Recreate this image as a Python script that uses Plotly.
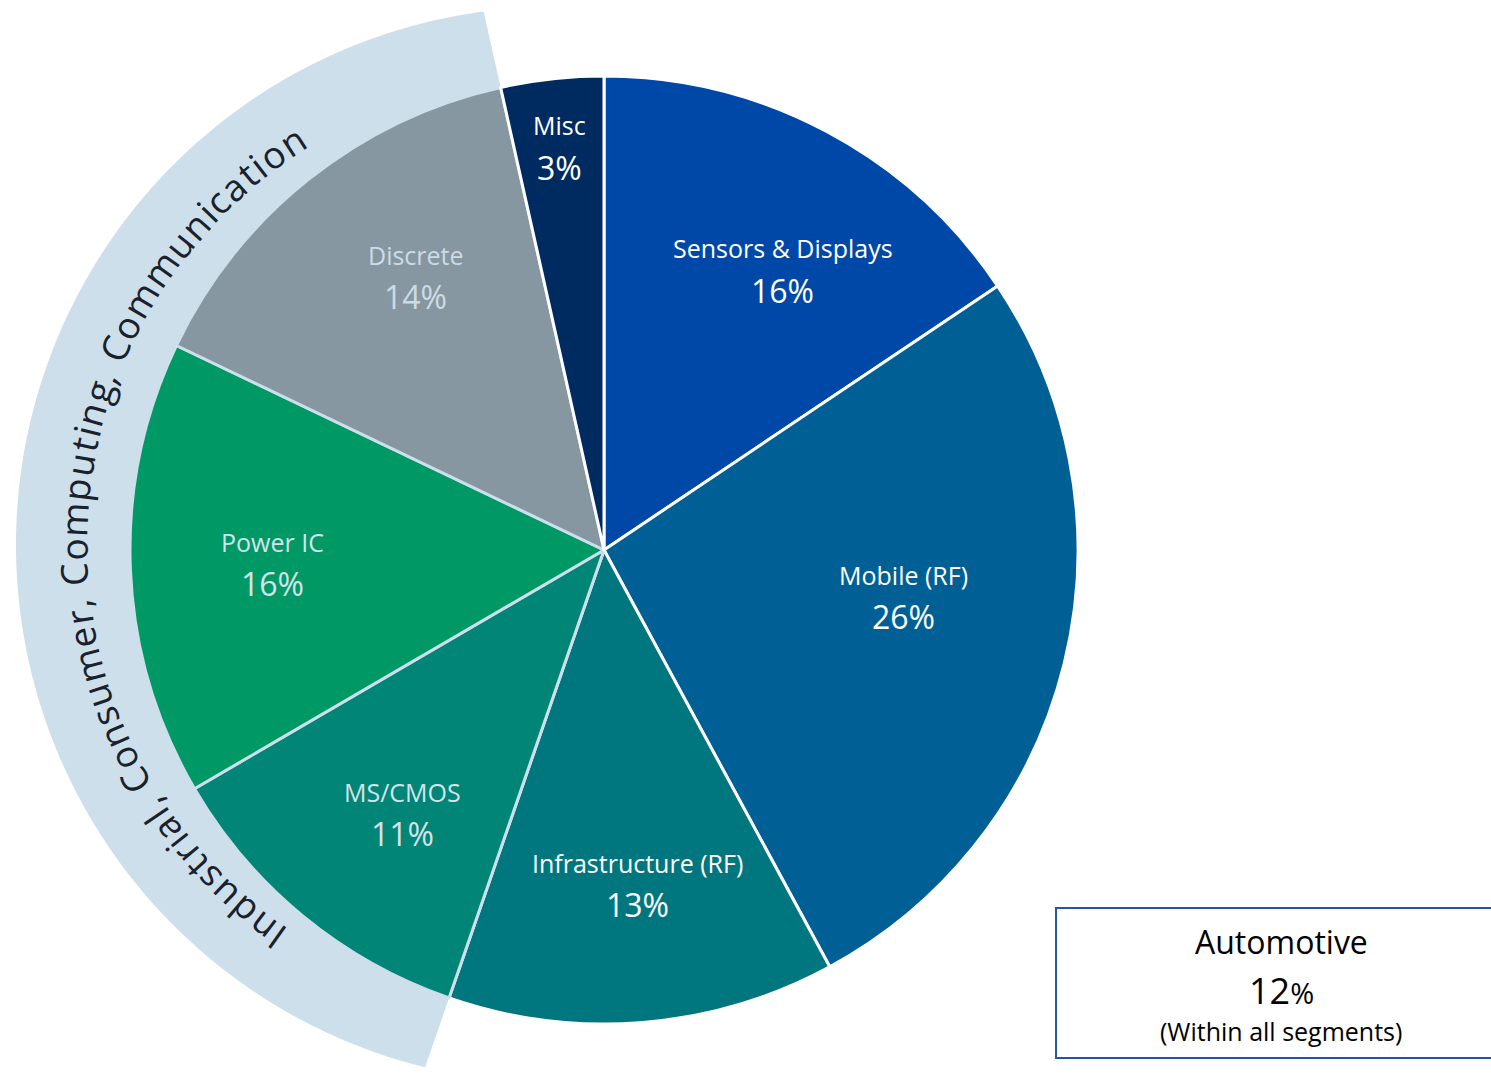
import math
import plotly.graph_objects as go

# data (clockwise from 12 o'clock)
segments = ["Sensors & Displays", "Mobile (RF)", "Infrastructure (RF)", "MS/CMOS",
            "Power IC", "Discrete", "Misc"]
shares = [15.6, 26.5, 13.2, 11.3, 15.5, 14.4, 3.5]
share_labels = ["16%", "26%", "13%", "11%", "16%", "14%", "3%"]
band_segments = ["MS/CMOS", "Power IC", "Discrete"]
band_label = "Industrial, Consumer, Computing, Communication"
automotive_share = "12"

# styling
COLORS = ["#0048A8", "#006096", "#00767F", "#008576", "#009966", "#8797A1", "#002B61"]
BAND_COLOR = "#CDDFEA"
TEXT_COLORS = ["#FFFFFF", "#FFFFFF", "#FFFFFF", "#D3E3EA", "#D3E3EA", "#CCDBE5", "#FFFFFF"]
LINE_COLORS = ["#FFFFFF", "#FFFFFF", "#FFFFFF", BAND_COLOR, BAND_COLOR, BAND_COLOR, "#FFFFFF"]
LABEL_R = [0.70, 0.64, 0.71, 0.70, 0.70, 0.70, 0.855]
LABEL_DA = [4.5, -5, -1, -2, 0, 4, 0]
FONT = "Open Sans"

W, H = 1491, 1074
CX, CY, R_PIE = 604, 550, 474
BAND_CX, BAND_CY, BAND_R = 554, 545, 538
TEXT_BASE_R = 467
TEXT_FS = 37
TEXT_TRACK = 1.7
TEXT_MID = 271.5

# approximate Open Sans advance widths (em)
ADV = {"I": .30, "n": .613, "d": .613, "u": .613, "s": .465, "t": .361, "r": .411,
       "i": .257, "a": .556, "l": .257, ",": .245, " ": .26, "C": .618, "o": .602,
       "m": .931, "e": .551, "p": .613, "g": .539, "c": .473}


def to_paper(px, py):
    return px / W, 1 - py / H


def polar_px(cx, cy, r, ang):
    a = math.radians(ang)
    return cx + r * math.sin(a), cy - r * math.cos(a)


total = sum(shares)
starts, ends = [], []
acc = 0
for v in shares:
    starts.append(acc / total * 360)
    acc += v
    ends.append(acc / total * 360)

fig = go.Figure()

x0, y1 = to_paper(CX - R_PIE, CY - R_PIE)
x1, y0 = to_paper(CX + R_PIE, CY + R_PIE)
fig.add_trace(go.Pie(
    labels=segments,
    values=shares,
    sort=False,
    direction="clockwise",
    rotation=0,
    textinfo="none",
    hoverinfo="label+percent",
    marker=dict(colors=COLORS, line=dict(color=LINE_COLORS, width=3)),
    domain=dict(x=[x0, x1], y=[y0, y1]),
    showlegend=False,
))

# light-blue band behind the grouped slices
i_first = segments.index(band_segments[0])
i_last = segments.index(band_segments[-1])
a1, a2 = starts[i_first], ends[i_last]


def ray_to_band(ang):
    a = math.radians(ang)
    dx, dy = math.sin(a), -math.cos(a)
    ox, oy = CX - BAND_CX, CY - BAND_CY
    b = dx * ox + dy * oy
    t = -b + math.sqrt(b * b - (ox * ox + oy * oy) + BAND_R ** 2)
    return CX + t * dx, CY + t * dy


pts = [to_paper(CX, CY)]
n = 160
for k in range(n + 1):
    ang = a1 + (a2 - a1) * k / n
    pts.append(to_paper(*ray_to_band(ang)))
path = "M " + " L ".join(f"{x:.5f},{y:.5f}" for x, y in pts) + " Z"

shapes = [dict(type="path", path=path, xref="paper", yref="paper",
               fillcolor=BAND_COLOR, line=dict(width=0), layer="below")]

annotations = []

# slice labels
for i, seg in enumerate(segments):
    mid = (starts[i] + ends[i]) / 2 + LABEL_DA[i]
    px, py = polar_px(CX, CY, R_PIE * LABEL_R[i], mid)
    x, y = to_paper(px, py)
    annotations.append(dict(x=x, y=y, xref="paper", yref="paper", text=seg,
                            showarrow=False, yshift=22, xanchor="center", yanchor="middle",
                            font=dict(family=FONT, size=25, color=TEXT_COLORS[i])))
    annotations.append(dict(x=x, y=y, xref="paper", yref="paper", text=share_labels[i],
                            showarrow=False, yshift=-20, xanchor="center", yanchor="middle",
                            font=dict(family=FONT, size=32, color=TEXT_COLORS[i])))

# curved band label
adv_r = TEXT_BASE_R + 6
widths = [ADV.get(ch, 0.55) * TEXT_FS + TEXT_TRACK for ch in band_label]
span = math.degrees(sum(widths) / adv_r)
cum = 0
center_r = TEXT_BASE_R + 0.39 * TEXT_FS
for ch, w in zip(band_label, widths):
    ang = TEXT_MID - span / 2 + math.degrees((cum + w / 2) / adv_r)
    cum += w
    if ch == " ":
        continue
    px, py = polar_px(BAND_CX, BAND_CY, center_r, ang)
    x, y = to_paper(px, py)
    rot = ((ang + 180) % 360) - 180
    annotations.append(dict(x=x, y=y, xref="paper", yref="paper", text=ch,
                            showarrow=False, textangle=rot, xanchor="center",
                            yanchor="middle",
                            font=dict(family=FONT, size=TEXT_FS, color="#18212C")))

# automotive box
bx0, by0 = to_paper(1056, 1058)
bx1, by1 = to_paper(1510, 908)
shapes.append(dict(type="rect", xref="paper", yref="paper", x0=bx0, y0=by0, x1=bx1, y1=by1,
                   line=dict(color="#2456A4", width=2), fillcolor="rgba(0,0,0,0)"))
bcx = to_paper(1281, 0)[0]
annotations += [
    dict(x=bcx, y=to_paper(0, 941)[1], xref="paper", yref="paper", text="Automotive",
         showarrow=False, xanchor="center", yanchor="middle",
         font=dict(family=FONT, size=32, color="#000000")),
    dict(x=bcx, y=to_paper(0, 990)[1], xref="paper", yref="paper",
         text=automotive_share + "<span style='font-size:29px'>%</span>",
         showarrow=False, xanchor="center", yanchor="middle",
         font=dict(family=FONT, size=36, color="#000000")),
    dict(x=bcx, y=to_paper(0, 1031)[1], xref="paper", yref="paper",
         text="(Within all segments)",
         showarrow=False, xanchor="center", yanchor="middle",
         font=dict(family=FONT, size=25, color="#000000")),
]

fig.update_layout(
    width=W, height=H,
    margin=dict(l=0, r=0, t=0, b=0),
    paper_bgcolor="white",
    plot_bgcolor="white",
    shapes=shapes,
    annotations=annotations,
    showlegend=False,
)

fig.write_html("out.html", config={"displayModeBar": False},
               post_script="document.body.style.margin='0';document.body.style.overflow='hidden';")
